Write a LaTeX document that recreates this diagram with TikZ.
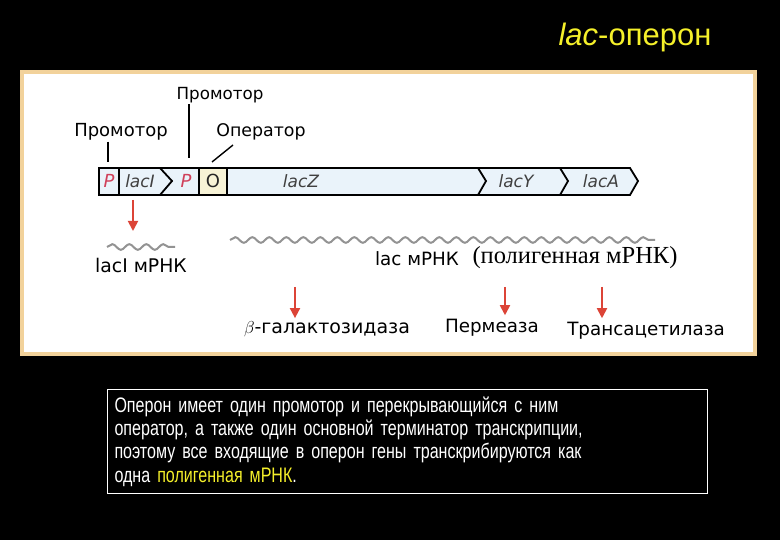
\documentclass[tikz,border=0pt]{standalone}
\usepackage{fontspec}
\setmainfont{DejaVu Sans}
\newfontfamily\titlefont{Liberation Sans}
\newfontfamily\boxfont[FakeStretch=0.765]{Liberation Sans}
\newfontfamily\serfont{Liberation Serif}
\usepackage{tikz}
\usetikzlibrary{arrows.meta,positioning,decorations.pathmorphing}

\definecolor{panelborder}{HTML}{F2D29B}
\definecolor{genefill}{HTML}{EAF3FA}
\definecolor{opfill}{HTML}{F7F3D6}
\definecolor{promred}{HTML}{D0405A}
\definecolor{arrowred}{HTML}{DC4437}
\definecolor{titleyellow}{HTML}{F5F02A}

\begin{document}
\begin{tikzpicture}[x=1pt,y=-1pt,>={Triangle[width=10pt,length=10pt]},
  label node/.style={font=\fontsize{18.3}{20}\selectfont,inner sep=1pt},
  gene text/.style={font=\fontsize{17}{18}\selectfont\itshape,text=black!75,inner sep=0pt},
  prom text/.style={font=\fontsize{18}{19}\selectfont\itshape,text=promred,inner sep=0pt},
  lead line/.style={black,line width=1.4pt},
  expr arrow/.style={->,arrowred,line width=1.8pt},
  mrna/.style={gray!85,line width=2pt,decorate,
    decoration={snake,segment length=17pt,amplitude=2.8pt}}]

  \useasboundingbox (0,0) rectangle (780,540);
  \fill[black] (0,0) rectangle (780,540);

  % title
  \node[text=titleyellow,font=\titlefont\fontsize{31}{34}\selectfont] (title) at (635,37) {\textit{lac}-оперон};

  % panel
  \draw[panelborder,line width=4pt,fill=white] (22,72) rectangle (755,354);

  % gene bar
  \fill[genefill] (99,168) -- (630,168) -- (638,181) -- (630,195) -- (99,195) -- cycle;
  \fill[opfill] (199,168) rectangle (227,195);
  \draw[line width=1.8pt,line join=miter]
    (99,168) -- (630,168) -- (638,181) -- (630,195) -- (99,195) -- cycle
    (119,168) -- (119,195)
    (160,168) -- (172,181) -- (160,195)
    (199,168) -- (199,195)
    (227,168) -- (227,195)
    (478,168) -- (486,181) -- (478,195)
    (560,168) -- (568,181) -- (560,195);

  \node[prom text] (p1) at (109,181) {P};
  \node[gene text] (lacI) at (140,181) {lacI};
  \node[prom text] (p2) at (186,181) {P};
  \node[font=\fontsize{18}{19}\selectfont,text=black!85,inner sep=0pt] (op) at (213,181) {O};
  \node[gene text] (lacZ) at (301,181) {lacZ};
  \node[gene text] (lacY) at (516,181) {lacY};
  \node[gene text] (lacA) at (601,181) {lacA};

  % labels above the bar
  \node[label node,font=\fontsize{16.7}{19}\selectfont] (prom2) at (220,95) {Промотор};
  \node[label node,font=\fontsize{18}{19}\selectfont] (prom1) at (121,132) {Промотор};
  \node[label node,font=\fontsize{17.4}{19}\selectfont] (oper) at (261,132) {Оператор};
  \coordinate (p1 tip) at (108,162);
  \coordinate (p2 tip) at (189,158);
  \coordinate (o base) at (233,145);
  \coordinate (o tip) at (212,162);
  \draw[lead line] (p1 tip |- prom1.south) -- (p1 tip);
  \draw[lead line] (p2 tip |- prom2.south) -- (p2 tip);
  \draw[lead line] (o base) -- (o tip);

  % transcripts
  \coordinate (w1 start) at (107,247);
  \coordinate (w1 end) at (175,247);
  \coordinate (w2 start) at (230,240);
  \coordinate (w2 end) at (655,240);
  \draw[mrna] (w1 start) -- (w1 end);
  \draw[mrna] (w2 start) -- (w2 end);
  \node[label node,font=\fontsize{18.8}{20}\selectfont] (laci mrna) at (141,265) {lacI мРНК};
  \node[label node] (lac mrna) at (417,259) {lac мРНК};
  \node[font=\serfont\fontsize{24.5}{26}\selectfont,inner sep=1pt] (poly) at (575,258) {(полигенная мРНК)};

  % proteins
  \node[label node,font=\fontsize{19}{20}\selectfont] (bgal) at (327,329) {$\beta$-галактозидаза};
  \node[label node] (perm) at (492,328) {Пермеаза};
  \node[label node] (trans) at (646,331) {Трансацетилаза};
  \coordinate (a1) at (133,200);
  \coordinate (a2) at (295,287);
  \coordinate (a3) at (505,287);
  \coordinate (a4) at (602,287);
  \draw[expr arrow] (a1) -- ([yshift=16pt]a1 |- w1 start);
  \draw[expr arrow] (a2) -- ([yshift=2pt]a2 |- bgal.north);
  \draw[expr arrow] (a3) -- ([yshift=3pt]a3 |- perm.north);
  \draw[expr arrow] (a4) -- ([yshift=3pt]a4 |- trans.north);

  % explanation
  \node[draw=white,line width=1pt,text=white,align=left,anchor=north west,
    minimum width=600pt,minimum height=104pt,text width=586pt,inner xsep=7pt,
    font=\boxfont\fontsize{21}{23.3}\selectfont] (note) at (107,389)
    {Оперон имеет один промотор и перекрывающийся с ним\\
     оператор, а также один основной терминатор транскрипции,\\
     поэтому все входящие в оперон гены транскрибируются как\\
     одна \textcolor{titleyellow}{полигенная мРНК}.};
\end{tikzpicture}
\end{document}
